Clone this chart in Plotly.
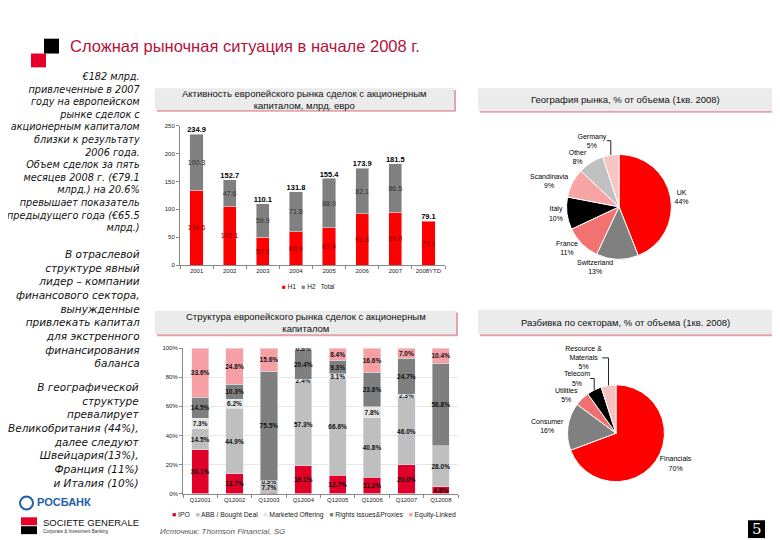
import plotly.graph_objects as go

W, H = 780, 540
def px(x): return x / W
def py(y): return 1 - y / H

# ---------------- data ----------------
years = ["2001", "2002", "2003", "2004", "2005", "2006", "2007", "2008YTD"]
h1 = [134.6, 105.1, 50.2, 60.0, 67.4, 91.8, 95.0, 79.1]
h2 = [100.3, 47.6, 59.9, 71.8, 88.0, 82.1, 86.5, None]
total = [234.9, 152.7, 110.1, 131.8, 155.4, 173.9, 181.5, 79.1]

quarters = ["Q12001", "Q12002", "Q12003", "Q12004", "Q12005", "Q12006", "Q12007", "Q12008"]
ipo = [30.1, 13.7, 0.2, 19.1, 12.7, 11.2, 20.0, 4.8]
abb = [14.5, 44.9, 7.7, 57.3, 66.6, 40.8, 46.0, 28.0]
marketed = [7.3, 6.2, 0.9, 2.4, 3.1, 7.8, 2.3, 0.0]
rights = [14.5, 10.3, 75.5, 20.4, 9.3, 23.6, 24.7, 56.8]
eq_linked = [33.6, 24.8, 15.6, 0.8, 8.4, 16.6, 7.0, 10.4]
struct_names = ["IPO", "ABB / Bought Deal", "Marketed Offering", "Rights issues&Proxies", "Equity-Linked"]

geo_labels = ["UK", "Switzerland", "France", "Italy", "Scandinavia", "Other", "Germany"]
geo_values = [44, 13, 11, 10, 9, 8, 5]

sector_labels = ["Financials", "Consumer", "Utilities", "Telecom", "Resource &<br>Materials"]
sector_values = [70, 16, 5, 5, 5]

FONT = "Arial, Liberation Sans, sans-serif"
fig = go.Figure()

# ---------------- top bar chart ----------------
c_h1, c_h2 = "#ff0000", "#808080"
fig.add_trace(go.Bar(x=years, y=h1, name="H1", marker_color=c_h1, width=0.4,
                     texttemplate="%{y:.1f}", textposition="inside", insidetextanchor="middle",
                     constraintext="none", textangle=0,
                     textfont=dict(size=7, color="#8a0000", family=FONT),
                     xaxis="x", yaxis="y", showlegend=False))
fig.add_trace(go.Bar(x=years, y=h2, name="H2", marker_color=c_h2, width=0.4,
                     texttemplate="%{y:.1f}", textposition="inside", insidetextanchor="middle",
                     constraintext="none", textangle=0,
                     textfont=dict(size=7, color="#333333", family=FONT),
                     xaxis="x", yaxis="y", showlegend=False))
fig.add_trace(go.Scatter(x=years, y=total, name="Total", mode="text",
                         texttemplate="<b>%{y:.1f}</b>", textposition="top center",
                         textfont=dict(size=7.5, color="black", family=FONT),
                         xaxis="x", yaxis="y", showlegend=False, cliponaxis=False))

# ---------------- bottom stacked 100% chart ----------------
struct_series = [ipo, abb, marketed, rights, eq_linked]
struct_colors = ["#e0002a", "#bfbfbf", "#e4e4e4", "#7f7f7f", "#f6a0a6"]
for name, vals, col in zip(struct_names, struct_series, struct_colors):
    fig.add_trace(go.Bar(x=quarters, y=vals, name=name, marker_color=col, width=0.5,
                         texttemplate="<b>%{y:.1f}%</b>", textposition="inside",
                         insidetextanchor="middle", constraintext="none", textangle=0,
                         textfont=dict(size=6.5, color="#111111", family=FONT),
                         xaxis="x2", yaxis="y2", showlegend=False))

# ---------------- pies ----------------
fig.add_trace(go.Pie(labels=geo_labels, values=geo_values, sort=False, direction="clockwise",
                     rotation=0,
                     marker=dict(colors=["#ff0000", "#808080", "#f27272", "#000000",
                                         "#f7a4a4", "#c0c0c0", "#f8c4c4"],
                                 line=dict(color="white", width=1)),
                     texttemplate="%{label}<br>%{value}%", textposition="outside",
                     textfont=dict(size=7, color="black", family=FONT),
                     domain=dict(x=[px(558), px(664)], y=[py(251), py(145)]),
                     showlegend=False))
fig.add_trace(go.Pie(labels=sector_labels, values=sector_values, sort=False, direction="clockwise",
                     rotation=0,
                     marker=dict(colors=["#ff0000", "#808080", "#f07070", "#000000", "#f8c0c0"],
                                 line=dict(color="white", width=1)),
                     texttemplate="%{label}<br>%{value}%", textposition="outside",
                     textfont=dict(size=7, color="black", family=FONT),
                     domain=dict(x=[px(559), px(657)], y=[py(476), py(378)]),
                     showlegend=False))

# ---------------- layout ----------------
axis_font = dict(size=6, color="#222", family=FONT)
fig.update_layout(
    width=W, height=H, margin=dict(l=0, r=0, t=0, b=0),
    paper_bgcolor="white", plot_bgcolor="white", barmode="stack",
    font=dict(family=FONT), showlegend=False,
    xaxis=dict(domain=[px(172), px(437)], anchor="y", showline=True, linecolor="#888",
               ticks="outside", tickson="boundaries", ticklen=3, tickcolor="#888",
               tickfont=axis_font, tickangle=0, showgrid=False),
    yaxis=dict(domain=[py(257), py(116)], anchor="x", range=[0, 250], dtick=50,
               showline=True, linecolor="#888", ticks="outside", ticklen=3, tickcolor="#888",
               tickfont=axis_font, showgrid=False, zeroline=False),
    xaxis2=dict(domain=[px(175), px(450)], anchor="y2", showline=True, linecolor="#888",
                ticks="outside", tickson="boundaries", ticklen=3, tickcolor="#888",
                tickfont=axis_font, tickangle=0, showgrid=False),
    yaxis2=dict(domain=[py(488), py(341)], anchor="x2", range=[0, 100], dtick=20,
                ticksuffix="%", showline=True, linecolor="#888", ticks="outside", ticklen=3,
                tickcolor="#888", tickfont=axis_font, showgrid=True, gridcolor="#e6e6e6",
                zeroline=False),
)

shapes = []
annotations = []

# legends (as text with coloured squares)
def legend_text(items):
    parts = []
    for name, col in items:
        if col:
            parts.append(f"<span style='color:{col}'>■</span> {name}")
        else:
            parts.append(f"{name}")
    return "   ".join(parts)

annotations.append(dict(text=legend_text([("H1", c_h1), ("H2", c_h2), ("Total", None)]),
                        x=px(300), y=py(279), xref="paper", yref="paper", xanchor="center",
                        yanchor="middle", showarrow=False,
                        font=dict(size=6.5, color="#222", family=FONT)))
annotations.append(dict(text=legend_text(list(zip(struct_names, struct_colors))),
                        x=px(306), y=py(510), xref="paper", yref="paper", xanchor="center",
                        yanchor="middle", showarrow=False,
                        font=dict(size=6.8, color="#222", family=FONT)))

# title squares
shapes.append(dict(type="rect", xref="paper", yref="paper", x0=px(36), x1=px(51), y0=py(43), y1=py(28),
                   fillcolor="black", line_width=0))
shapes.append(dict(type="rect", xref="paper", yref="paper", x0=px(23), x1=px(38), y0=py(57), y1=py(43),
                   fillcolor="#e4002b", line_width=0))
annotations.append(dict(text="Сложная рыночная ситуация в начале 2008 г.", x=px(60), y=py(35),
                        xref="paper", yref="paper", xanchor="left", yanchor="middle", showarrow=False,
                        font=dict(size=16.5, color="#b5123a", family=FONT)))

# header boxes
def header(x0, y0, x1, y1, text):
    shapes.append(dict(type="rect", xref="paper", yref="paper", x0=px(x0 + 2), x1=px(x1 + 2),
                       y0=py(y1 + 2), y1=py(y0 + 2), fillcolor="#e3a3ad", line_width=0))
    shapes.append(dict(type="rect", xref="paper", yref="paper", x0=px(x0), x1=px(x1),
                       y0=py(y1), y1=py(y0), fillcolor="#ebebeb", line_width=0))
    annotations.append(dict(text=text, x=px((x0 + x1) / 2), y=py((y0 + y1) / 2), xref="paper",
                            yref="paper", xanchor="center", yanchor="middle", showarrow=False,
                            font=dict(size=9.5, color="#111", family=FONT)))

header(147, 78, 446, 100, "Активность европейского рынка сделок с акционерным<br>капиталом, млрд. евро")
header(470, 78, 764, 101, "География рынка, % от объема (1кв. 2008)")
header(147, 303, 448, 327, "Структура европейского рынка сделок с акционерным<br>капиталом")
header(470, 302, 764, 327, "Разбивка по секторам, % от объема (1кв. 2008)")

# left commentary
para1 = ["€182 млрд.", "привлеченные в 2007", "году на европейском", "рынке сделок с",
         "акционерным капиталом", "близки к результату", "2006 года.", "Объем сделок за пять",
         "месяцев 2008 г. (€79.1", "млрд.) на 20.6%", "превышает показатель",
         "предыдущего года (€65.5", "млрд.)"]
para2 = ["В отраслевой", "структуре явный", "лидер – компании", "финансового сектора,",
         "вынужденные", "привлекать капитал", "для экстренного", "финансирования", "баланса"]
para3 = ["В географической", "структуре", "превалирует", "Великобритания (44%),",
         "далее следуют", "Швейцария(13%),", "Франция (11%)", "и Италия (10%)"]
BODY = "DejaVu Sans, sans-serif"
for lines, ymid, size in [(para1, 143, 9.7), (para2, 301, 10.5), (para3, 429, 10.5)]:
    annotations.append(dict(text="<i>" + "<br>".join(lines) + "</i>", x=px(134), y=py(ymid),
                            xref="paper", yref="paper", xanchor="right", yanchor="middle",
                            align="right", showarrow=False,
                            font=dict(size=size, color="#111", family=BODY)))

# source
annotations.append(dict(text="<i>Источник: Thomson Financial, SG</i>", x=px(150), y=py(526),
                        xref="paper", yref="paper", xanchor="left", yanchor="middle",
                        showarrow=False, font=dict(size=8, color="#555", family=FONT)))

# logos
shapes.append(dict(type="circle", xref="paper", yref="paper", x0=px(12), x1=px(25), y0=py(504), y1=py(491),
                   line=dict(color="#1f5fa6", width=2), fillcolor="white"))
annotations.append(dict(text="<b>РОСБАНК</b>", x=px(27), y=py(497), xref="paper", yref="paper",
                        xanchor="left", yanchor="middle", showarrow=False,
                        font=dict(size=11, color="#1f5fa6", family=FONT)))
shapes.append(dict(type="rect", xref="paper", yref="paper", x0=px(13), x1=px(29), y0=py(520), y1=py(512),
                   fillcolor="#e60028", line_width=0))
shapes.append(dict(type="rect", xref="paper", yref="paper", x0=px(13), x1=px(29), y0=py(529), y1=py(521),
                   fillcolor="black", line_width=0))
annotations.append(dict(text="SOCIETE GENERALE", x=px(33), y=py(517), xref="paper", yref="paper",
                        xanchor="left", yanchor="middle", showarrow=False,
                        font=dict(size=9.5, color="#111", family=FONT)))
annotations.append(dict(text="Corporate & Investment Banking", x=px(33), y=py(526), xref="paper",
                        yref="paper", xanchor="left", yanchor="middle", showarrow=False,
                        font=dict(size=4.5, color="#333", family=FONT)))

# page number
shapes.append(dict(type="rect", xref="paper", yref="paper", x0=px(740), x1=px(757), y0=py(533), y1=py(515),
                   fillcolor="black", line_width=0))
annotations.append(dict(text="5", x=px(748.5), y=py(524), xref="paper", yref="paper",
                        xanchor="center", yanchor="middle", showarrow=False,
                        font=dict(size=15, color="white", family="DejaVu Serif, serif")))

fig.update_layout(shapes=shapes, annotations=annotations)
fig.write_html("out.html")
